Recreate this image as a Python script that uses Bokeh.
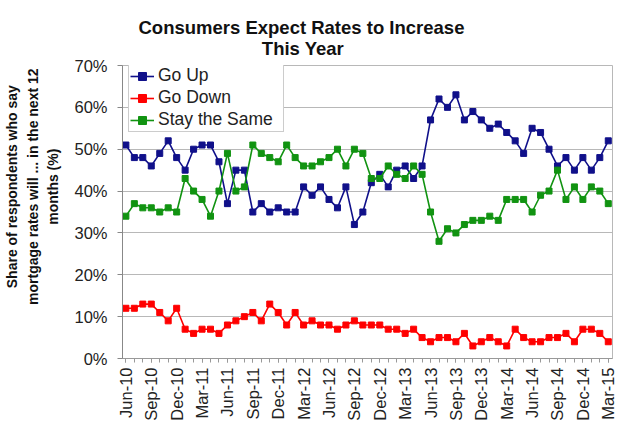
from math import pi
from bokeh.plotting import figure
from bokeh.models import FixedTicker, PrintfTickFormatter, Legend, LegendItem, Range1d
from bokeh.embed import file_html
from bokeh.resources import INLINE

# Monthly survey, Jun-10 .. Mar-15 (share of respondents, %)
go_up = [51, 48, 48, 46, 49, 52, 48, 45, 50, 51, 51, 47, 37, 45, 45, 35, 37, 35, 36, 35,
         35, 41, 39, 41, 38, 36, 41, 32, 35, 42, 44, 41, 45, 46, 43, 46, 57, 62, 60, 63,
         57, 59, 57, 55, 56, 54, 52, 49, 55, 54, 50, 46, 48, 45, 48, 45, 48, 52]
go_down = [12, 12, 13, 13, 11, 9, 12, 7, 6, 7, 7, 6, 8, 9, 10, 11, 9, 13, 11, 8,
           11, 8, 9, 8, 8, 7, 8, 9, 8, 8, 8, 7, 7, 6, 7, 5, 4, 5, 5, 4,
           6, 3, 4, 5, 4, 3, 7, 5, 4, 4, 5, 5, 6, 4, 7, 7, 6, 4]
stay_same = [34, 37, 36, 36, 35, 36, 35, 43, 40, 38, 34, 40, 49, 40, 41, 51, 49, 48, 47, 51,
             48, 46, 46, 47, 48, 50, 46, 50, 49, 43, 43, 46, 44, 43, 46, 44, 35, 28, 31, 30,
             32, 33, 33, 34, 33, 38, 38, 38, 35, 39, 40, 45, 38, 41, 38, 41, 40, 37]
tick_labels = ["Jun-10", "Sep-10", "Dec-10", "Mar-11", "Jun-11", "Sep-11", "Dec-11",
               "Mar-12", "Jun-12", "Sep-12", "Dec-12", "Mar-13", "Jun-13", "Sep-13",
               "Dec-13", "Mar-14", "Jun-14", "Sep-14", "Dec-14", "Mar-15"]
series_names = ["Go Up", "Go Down", "Stay the Same"]
series_colors = ["#10108a", "#ff0000", "#119311"]
title_lines = ["Consumers Expect Rates to Increase", "This Year"]
y_title_lines = ["Share of respondents who say", "mortgage rates will ... in the next 12",
                 "months (%)"]

n = len(go_up)
x = list(range(n))
tick_pos = list(range(0, n, 3))

FONT = "Liberation Sans"
NB = "\u00a0"

p = figure(width=620, height=434, output_backend="svg", toolbar_location=None,
           x_range=Range1d(-0.4, n - 0.5), y_range=Range1d(0, 70),
           min_border_left=122, min_border_right=8, min_border_top=65, min_border_bottom=76,
           background_fill_color="white", border_fill_color="white")

# two-line title; second line indented with no-break spaces so both lines share a centre
p.title.text = title_lines[0] + "\n" + NB * 24 + title_lines[1]
p.title.text_font = FONT
p.title.text_font_size = "18.5px"
p.title.text_font_style = "bold"
p.title.text_color = "#111111"
p.title.text_line_height = 1.0
p.title.align = "left"
p.title.offset = 16
p.title.standoff = 13

items = []
for name, vals, col in zip(series_names, [go_up, go_down, stay_same], series_colors):
    r1 = p.line(x, vals, line_color=col, line_width=1.6)
    r2 = p.scatter(x, vals, marker="square", size=6, fill_color=col, line_color=col)
    items.append(LegendItem(label=name, renderers=[r1, r2]))

legend = Legend(items=items, location=(6, 226), border_line_color="#999999",
                label_text_font=FONT, label_text_font_size="17.5px", label_text_color="#222222",
                glyph_width=24, glyph_height=20, spacing=1, padding=1, margin=0,
                label_standoff=4, label_width=124, background_fill_alpha=1.0)
p.add_layout(legend, "center")

p.xaxis.ticker = FixedTicker(ticks=tick_pos, minor_ticks=x)
p.xaxis.major_label_overrides = {i: lab for i, lab in zip(tick_pos, tick_labels)}
p.xaxis.major_label_orientation = pi / 2
p.xaxis.major_label_text_font = FONT
p.xaxis.major_label_text_font_size = "16.5px"
p.xaxis.major_label_text_color = "#222222"
p.xaxis.major_label_standoff = 5
p.xaxis.axis_line_color = "#999999"
p.xaxis.major_tick_line_color = "#999999"
p.xaxis.minor_tick_line_color = "#999999"
p.xaxis.major_tick_out = 4
p.xaxis.major_tick_in = 0
p.xaxis.minor_tick_out = 4
p.xaxis.minor_tick_in = 0

p.yaxis.ticker = FixedTicker(ticks=list(range(0, 71, 10)))
p.yaxis.formatter = PrintfTickFormatter(format="%d%%")
p.yaxis.major_label_text_font = FONT
p.yaxis.major_label_text_font_size = "16.5px"
p.yaxis.major_label_text_color = "#222222"
p.yaxis.major_label_standoff = 10
p.yaxis.axis_line_color = "#888888"
p.yaxis.major_tick_line_color = "#888888"
p.yaxis.major_tick_out = 5
p.yaxis.major_tick_in = 0
p.yaxis.minor_tick_line_color = None
# leading no-break spaces lift each centred line a little above the frame's middle
p.yaxis.axis_label = "\n".join(NB * 13 + t for t in y_title_lines)
p.yaxis.axis_label_text_font = FONT
p.yaxis.axis_label_text_font_size = "14px"
p.yaxis.axis_label_text_font_style = "bold"
p.yaxis.axis_label_text_color = "#111111"
p.yaxis.axis_label_text_line_height = 1.3
p.yaxis.axis_label_standoff = 10

p.xgrid.grid_line_color = None
p.ygrid.grid_line_color = "#b8b8b8"
p.outline_line_color = "#b8b8b8"

open("out.html", "w").write(file_html(p, INLINE))
